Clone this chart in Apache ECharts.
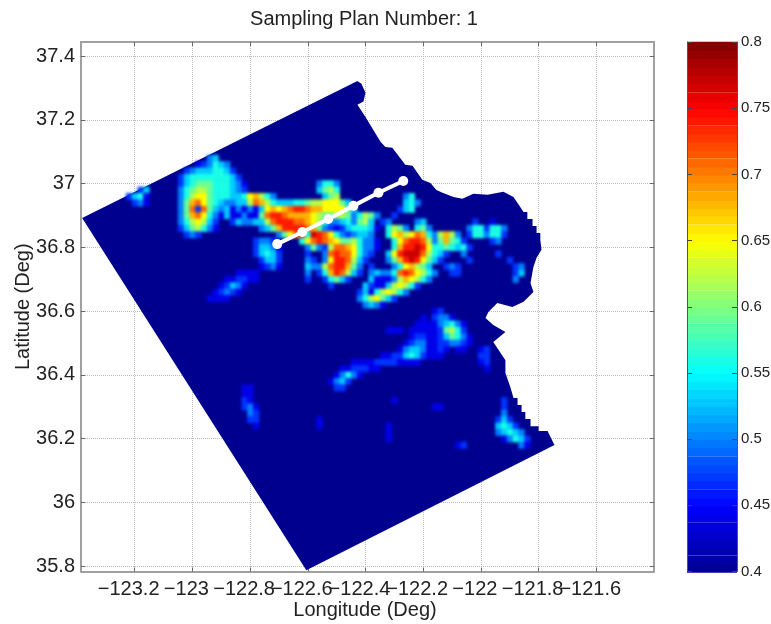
<!DOCTYPE html>
<html>
<head>
<meta charset="utf-8">
<title>Sampling Plan Number: 1</title>
<script src="https://cdn.jsdelivr.net/npm/echarts@6/dist/echarts.min.js"></script>
<style>
html, body { margin: 0; padding: 0; background: #fff; }
#main { width: 771px; height: 624px; }
/* cells get their own canvas (zlevel 1), softened so the field reads as a shaded surface */
#main canvas[data-zr-dom-id="zr_1"] { filter: blur(1.6px); }
</style>
</head>
<body>
<div id="main"></div>
<script>
// axis ticks
var lonTicks = [-123.2, -123, -122.8, -122.6, -122.4, -122.2, -122, -121.8, -121.6];
var lonLabels = [-123.2, -123, -122.8, -122.6, -122.4, -122.2, -122, -121.8];
var lonLastLabel = [-121.6];
var latTicks = [35.8, 36, 36.2, 36.4, 36.6, 36.8, 37, 37.2, 37.4];
var barTicks = [0.4, 0.45, 0.5, 0.55, 0.6, 0.65, 0.7, 0.75, 0.8];

// survey region outline (lon / lat)
var regionLon = [-123.382, -122.428, -122.414, -122.400, -122.407, -122.428, -122.400, -122.348, -122.331, -122.307,
    -122.262, -122.237, -122.203, -122.175, -122.154, -122.133, -122.095, -122.064, -122.026, -121.977,
    -121.922, -121.887, -121.852, -121.839, -121.839, -121.821, -121.821, -121.807, -121.807, -121.794, -121.794,
    -121.790, -121.807, -121.818, -121.828, -121.818,
    -121.852, -121.891, -121.943, -121.974, -121.984, -121.957, -121.915, -121.957, -121.915, -121.915,
    -121.898, -121.887, -121.873, -121.873, -121.859, -121.859, -121.846, -121.846, -121.828, -121.828,
    -121.800, -121.800, -121.769, -121.745, -122.605];
var regionLat = [36.892, 37.322, 37.313, 37.285, 37.257, 37.247, 37.209, 37.131, 37.115, 37.112,
    37.059, 37.056, 37.012, 37.002, 36.980, 36.971, 36.958, 36.952, 36.968, 36.965,
    36.974, 36.958, 36.911, 36.911, 36.889, 36.889, 36.867, 36.867, 36.845, 36.845, 36.823,
    36.792, 36.767, 36.738, 36.688, 36.660,
    36.629, 36.613, 36.625, 36.597, 36.578, 36.556, 36.534, 36.503, 36.446, 36.406,
    36.362, 36.327, 36.327, 36.305, 36.305, 36.283, 36.283, 36.261, 36.261, 36.239,
    36.239, 36.224, 36.224, 36.180, 35.787];

// sampling track
var trackLon = [-122.706, -122.619, -122.529, -122.442, -122.355, -122.269];
var trackLat = [36.81, 36.848, 36.889, 36.93, 36.971, 37.008];

// field cells above the floor value. one string per row, rows go down from cellLat0,
// each piece is "column:levels", one level character per cell
var cellLon0 = -123.24;
var cellLat0 = 37.10;
var cellStep = 0.02;
var levelKeys = '123456789abc';
var levelValues = [0.44, 0.47, 0.50, 0.53, 0.56, 0.59, 0.62, 0.65, 0.68, 0.71, 0.74, 0.77];
var cellRows = [
    '',
    '15:34',
    '13:12 15:3543',
    '11:234445542',
    '10:24555555542',
    '10:245666555431 34:3553',
    '3:24 10:356776555432 34:4675',
    '1:2451 10:35788655544589753 35:467 49:35',
    '2:231 10:369a865433447a9754445567788864 49:453',
    '10:36a2a64341313148989abba99888864 48:245',
    '10:369a85314113116abba9999876677635763 47:2',
    '10:3578742 19:24334 24:47abbbaa987533453674 45:23 51:34 61:2 64:1',
    '10:2467531 24:3469bbbba963212455541 46:5763 51:563 60:355 63:2553',
    '11:232 27:368ab5cba85323443 46:58978a95 54:37973 60:255 63:3552',
    '23:2332 31:58aba986675331 47:58abba73 55:69652 64:23',
    '23:24431 32:36327aa985331 47:59bbcb85565452',
    '23:24542 32:2 35:3abaa8532 46:48bccca7542 59:3 65:2',
    '24:2442 32:32 35:38bba742 46:369bcb8642 60:2 67:2',
    '24:1231 32:43 34:37abb963 43:2 47:3589764 56:232 68:23',
    '20:1111 32:3 34:259ba742 43:343 46:35aba8753 57:22 68:24',
    '18:112211 32:2 35:25642 43:4111 47:3798753 68:3',
    '17:12431 36:2 42:4211478752',
    '16:12321 41:241578753',
    '15:1111 41:3578642',
    '42:3431',
    '54:12',
    '52:1 54:2331',
    '51:111134531',
    '46:111 50:1111 54:126752',
    '50:1221 54:1246531',
    '49:123311223321',
    '48:134431121 58:11 62:12',
    '45:11224542111 62:22',
    '40:111122221111 62:12',
    '38:1122211 63:1',
    '37:13531',
    '36:1342',
    '21:11 37:22',
    '21:11',
    '21:21 47:1 66:2',
    '21:231 54:11 66:2',
    '22:32 66:3',
    '22:22 34:1 65:242',
    '23:1 34:1 46:1 65:4542',
    '46:1 65:34543',
    '46:1 66:13542',
    '58:12 69:31'
];

// colour bar bands
var barStep = 0.00625;
var barLevels = [0.403, 0.409, 0.416, 0.422, 0.428, 0.434, 0.441, 0.447, 0.453, 0.459, 0.466, 0.472, 0.478, 0.484, 0.491, 0.497,
    0.503, 0.509, 0.516, 0.522, 0.528, 0.534, 0.541, 0.547, 0.553, 0.559, 0.566, 0.572, 0.578, 0.584, 0.591, 0.597,
    0.603, 0.609, 0.616, 0.622, 0.628, 0.634, 0.641, 0.647, 0.653, 0.659, 0.666, 0.672, 0.678, 0.684, 0.691, 0.697,
    0.703, 0.709, 0.716, 0.722, 0.728, 0.734, 0.741, 0.747, 0.753, 0.759, 0.766, 0.772, 0.778, 0.784, 0.791, 0.797];

var jet = ['#00008f', '#0000ff', '#0080ff', '#00ffff', '#80ff80', '#ffff00', '#ff8000', '#ff0000', '#800000'];

var cellData = [];
for (var r = 0; r < cellRows.length; r++) {
    if (!cellRows[r]) continue;
    var pieces = cellRows[r].split(' ');
    for (var p = 0; p < pieces.length; p++) {
        var part = pieces[p].split(':');
        var col = parseInt(part[0], 10);
        for (var k = 0; k < part[1].length; k++) {
            cellData.push([
                cellLon0 + (col + k) * cellStep,
                cellLat0 - r * cellStep,
                levelValues[levelKeys.indexOf(part[1].charAt(k))]
            ]);
        }
    }
}

var regionData = regionLon.map(function(lon, i) { return [lon, regionLat[i]]; });
var trackData = trackLon.map(function(lon, i) { return [lon, trackLat[i]]; });

function minusLabel(v) {
    return String(v).replace('-', '\u2212');
}

var font = 'Liberation Sans';
var frame = '#a0a0a0';
var chart = echarts.init(document.getElementById('main'));

chart.setOption({
    animation: false,
    backgroundColor: '#fff',
    textStyle: { fontFamily: font },
    title: {
        text: 'Sampling Plan Number: 1',
        left: 359,
        top: 4,
        textAlign: 'center',
        textStyle: { fontFamily: font, fontSize: 20, fontWeight: 'normal', color: '#222' }
    },
    grid: [
        { left: 81, top: 42, width: 573, height: 529.5, outerBoundsMode: 'none' },
        { left: 687, top: 42, width: 50, height: 529.5, outerBoundsMode: 'none' }
    ],
    xAxis: [{
        type: 'value', gridIndex: 0, position: 'bottom',
        min: -123.386, max: -121.4,
        name: 'Longitude (Deg)', nameLocation: 'middle', nameGap: 29, nameMoveOverlap: false,
        nameTextStyle: { fontSize: 20, color: '#222', fontFamily: font, padding: [0, 5, 0, 0] },
        axisLine: { show: true, onZero: false, lineStyle: { color: frame, width: 2 } },
        axisTick: { show: true, inside: true, length: 4, customValues: lonTicks, lineStyle: { color: '#666' } },
        axisLabel: { fontSize: 20, color: '#222', margin: 8, padding: [0, 12, 0, 0], hideOverlap: false, showMinLabel: true, showMaxLabel: true, customValues: lonLabels, formatter: minusLabel },
        splitLine: { show: true, lineStyle: { type: 'dotted', color: '#bbb' } }
    }, {
        type: 'value', gridIndex: 0, position: 'top',
        min: -123.386, max: -121.4,
        axisLine: { show: true, onZero: false, lineStyle: { color: frame, width: 2 } },
        axisTick: { show: true, inside: true, length: 4, customValues: lonTicks, lineStyle: { color: '#666' } },
        axisLabel: { show: false },
        splitLine: { show: false }
    }, {
        type: 'value', gridIndex: 1, min: 0, max: 1, show: false
    }, {
        // last label sits on its own axis, otherwise it knocks out its overlapping neighbour
        type: 'value', gridIndex: 0, position: 'bottom',
        min: -123.386, max: -121.4,
        axisLine: { show: false, onZero: false },
        axisTick: { show: false },
        axisLabel: { fontSize: 20, color: '#222', margin: 8, padding: [0, 12, 0, 0], customValues: lonLastLabel, formatter: minusLabel },
        splitLine: { show: false }
    }],
    yAxis: [{
        type: 'value', gridIndex: 0, position: 'left',
        min: 35.783, max: 37.444,
        name: 'Latitude (Deg)', nameLocation: 'middle', nameGap: 48, nameMoveOverlap: false,
        nameTextStyle: { fontSize: 20, color: '#222', fontFamily: font },
        axisLine: { show: true, onZero: false, lineStyle: { color: frame, width: 2 } },
        axisTick: { show: true, inside: true, length: 4, customValues: latTicks, lineStyle: { color: '#666' } },
        axisLabel: { fontSize: 20, color: '#222', margin: 6, hideOverlap: false, showMinLabel: true, showMaxLabel: true, customValues: latTicks, formatter: minusLabel },
        splitLine: { show: true, lineStyle: { type: 'dotted', color: '#bbb' } }
    }, {
        type: 'value', gridIndex: 0, position: 'right',
        min: 35.783, max: 37.444,
        axisLine: { show: true, onZero: false, lineStyle: { color: frame, width: 2 } },
        axisTick: { show: true, inside: true, length: 4, customValues: latTicks, lineStyle: { color: '#666' } },
        axisLabel: { show: false },
        splitLine: { show: false }
    }, {
        type: 'value', gridIndex: 1, position: 'right',
        min: 0.4, max: 0.8, z: 10,
        axisLine: { show: true, onZero: false, lineStyle: { color: '#555', width: 1 } },
        axisTick: { show: true, inside: true, length: 5, customValues: barTicks, lineStyle: { color: '#444' } },
        axisLabel: { fontSize: 15, color: '#222', margin: 4, hideOverlap: false, showMinLabel: true, showMaxLabel: true, customValues: barTicks },
        splitLine: { show: false }
    }, {
        type: 'value', gridIndex: 1, position: 'left',
        min: 0.4, max: 0.8, z: 10,
        axisLine: { show: true, onZero: false, lineStyle: { color: '#555', width: 1 } },
        axisTick: { show: true, inside: true, length: 5, customValues: barTicks, lineStyle: { color: '#444' } },
        axisLabel: { show: false },
        splitLine: { show: false }
    }],
    visualMap: {
        show: false,
        type: 'continuous',
        min: 0.4,
        max: 0.8,
        seriesIndex: [1, 3],
        dimension: 2,
        inRange: { color: jet }
    },
    series: [{
        // region floor, everything not in cellRows sits at the bottom of the scale
        type: 'custom',
        xAxisIndex: 0, yAxisIndex: 0,
        silent: true, z: 2,
        data: regionData,
        renderItem: function(params, api) {
            if (params.dataIndex !== 0) return;
            var pts = regionData.map(function(d) { return api.coord(d); });
            return { type: 'polygon', shape: { points: pts }, style: { fill: jet[0] } };
        }
    }, {
        type: 'custom',
        xAxisIndex: 0, yAxisIndex: 0,
        silent: true, zlevel: 1, z: 3,
        dimensions: ['lon', 'lat', 'value'],
        encode: { x: 0, y: 1 },
        data: cellData,
        renderItem: function(params, api) {
            var c = api.coord([api.value(0), api.value(1)]);
            var s = api.size([cellStep, cellStep]);
            return {
                type: 'rect',
                shape: { x: c[0] - s[0] / 2, y: c[1] - s[1] / 2, width: s[0] + 0.5, height: s[1] + 0.5 },
                style: { fill: api.visual('color') }
            };
        }
    }, {
        type: 'line',
        xAxisIndex: 0, yAxisIndex: 0,
        silent: true, zlevel: 2, z: 5,
        data: trackData,
        symbol: 'circle',
        symbolSize: 10,
        itemStyle: { color: '#fff' },
        lineStyle: { color: '#fff', width: 4 }
    }, {
        type: 'custom',
        xAxisIndex: 2, yAxisIndex: 2,
        silent: true, z: 3,
        dimensions: ['x', 'y', 'value'],
        encode: { x: 0, y: 1 },
        data: barLevels.map(function(v) { return [0.5, v, v]; }),
        renderItem: function(params, api) {
            var v = api.value(1);
            var p = api.coord([0, v + barStep / 2]);
            var s = api.size([1, barStep]);
            return {
                type: 'rect',
                shape: { x: p[0], y: p[1], width: s[0], height: s[1] + 1 },
                style: { fill: api.visual('color') }
            };
        }
    }]
});
</script>
</body>
</html>
